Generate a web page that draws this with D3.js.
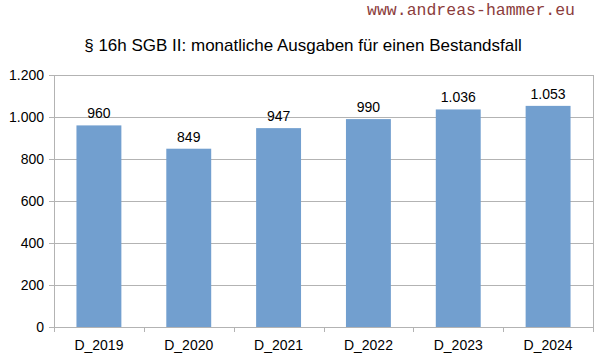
<!DOCTYPE html>
<meta charset="utf-8">
<title>§ 16h SGB II</title>
<script src="https://d3js.org/d3.v7.min.js"></script>
<style>
  body { margin: 0; background: #fff; }
  text { font-family: "Liberation Sans", Arial, sans-serif; fill: #000; }
  .wm { font-family: "Courier New", "Liberation Mono", monospace; fill: #8b3c3c; }
</style>
<body>
<svg width="605" height="360"></svg>
<script>
  var categories = ["D_2019", "D_2020", "D_2021", "D_2022", "D_2023", "D_2024"];
  var values = [960, 849, 947, 990, 1036, 1053];
  var yTicks = [0, 200, 400, 600, 800, 1000, 1200];

  var svg = d3.select("svg"),
    plotLeft = 54, plotRight = 593, plotTop = 75, plotBottom = 327;

  var fmt = d3.formatLocale({ decimal: ",", thousands: ".", grouping: [3], currency: ["", "€"] }).format(",d");

  var x = d3.scaleBand().domain(categories).range([plotLeft, plotRight]).paddingInner(0.5).paddingOuter(0.25);
  var y = d3.scaleLinear().domain([0, 1200]).range([plotBottom, plotTop]);

  svg.append("text").attr("class", "wm")
    .attr("x", 575).attr("y", 15).attr("text-anchor", "end")
    .style("font-size", "16.5px").text("www.andreas-hammer.eu");

  svg.append("text").attr("x", 303).attr("y", 51).attr("text-anchor", "middle")
    .style("font-size", "17px").text("§ 16h SGB II: monatliche Ausgaben für einen Bestandsfall");

  // gridlines
  svg.append("g").selectAll("line").data(yTicks).enter().append("line")
    .attr("x1", plotLeft - 5).attr("x2", plotRight)
    .attr("y1", function (d) { return Math.round(y(d)) + 0.5; })
    .attr("y2", function (d) { return Math.round(y(d)) + 0.5; })
    .attr("stroke", "#b3b3b3");

  svg.append("g").selectAll("text").data(yTicks).enter().append("text")
    .attr("x", plotLeft - 10).attr("y", function (d) { return y(d) + 5; })
    .attr("text-anchor", "end").style("font-size", "14px")
    .text(function (d) { return fmt(d); });

  // axis frame
  svg.append("line").attr("x1", plotLeft + 0.5).attr("x2", plotLeft + 0.5).attr("y1", plotTop).attr("y2", plotBottom).attr("stroke", "#b3b3b3");
  svg.append("line").attr("x1", plotRight + 0.5).attr("x2", plotRight + 0.5).attr("y1", plotTop).attr("y2", plotBottom).attr("stroke", "#b3b3b3");

  // category ticks
  var step = (plotRight - plotLeft) / categories.length;
  svg.append("g").selectAll("line").data(d3.range(categories.length + 1)).enter().append("line")
    .attr("x1", function (i) { return Math.round(plotLeft + i * step) + 0.5; })
    .attr("x2", function (i) { return Math.round(plotLeft + i * step) + 0.5; })
    .attr("y1", plotBottom).attr("y2", plotBottom + 5).attr("stroke", "#b3b3b3");

  svg.append("g").selectAll("rect").data(values).enter().append("rect")
    .attr("x", function (d, i) { return x(categories[i]); })
    .attr("width", x.bandwidth())
    .attr("y", function (d) { return y(d); })
    .attr("height", function (d) { return plotBottom - y(d); })
    .attr("fill", "#729fcf");

  svg.append("g").selectAll("text").data(values).enter().append("text")
    .attr("x", function (d, i) { return x(categories[i]) + x.bandwidth() / 2; })
    .attr("y", function (d) { return y(d) - 7; })
    .attr("text-anchor", "middle").style("font-size", "14px")
    .text(function (d) { return fmt(d); });

  svg.append("g").selectAll("text").data(categories).enter().append("text")
    .attr("x", function (d) { return x(d) + x.bandwidth() / 2; })
    .attr("y", 350).attr("text-anchor", "middle").style("font-size", "14px")
    .text(function (d) { return d; });
</script>
</body>
